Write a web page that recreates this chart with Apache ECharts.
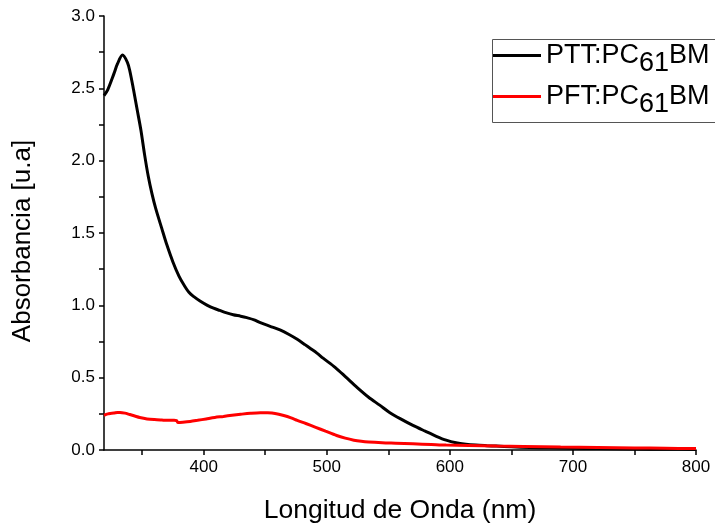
<!DOCTYPE html>
<html>
<head>
<meta charset="utf-8">
<script src="https://cdn.jsdelivr.net/npm/echarts@6/dist/echarts.min.js"></script>
<style>
  html, body { margin: 0; padding: 0; background: #fff; }
  #chart { width: 715px; height: 529px; }
</style>
</head>
<body>
<div id="chart"></div>
<script>
// PTT:PC61BM absorbance (wavelength nm, value)
const pttWave = [319, 322, 327, 330, 334, 338, 340, 343, 346, 349, 352, 355, 358, 361, 366, 370, 375, 380, 384, 388, 392, 397, 403, 408, 413, 418, 424, 430, 435, 441, 446, 454, 462, 469, 476, 482, 487, 492, 497, 507, 516, 525, 534, 543, 551, 560, 570, 580, 589, 597, 605, 613, 621, 630, 638, 650, 665, 680, 700, 720, 750, 775, 800];
const pttAbs  = [2.45, 2.49, 2.60, 2.67, 2.73, 2.68, 2.62, 2.49, 2.35, 2.21, 2.04, 1.89, 1.77, 1.67, 1.53, 1.42, 1.30, 1.20, 1.14, 1.09, 1.06, 1.03, 1.00, 0.98, 0.965, 0.95, 0.935, 0.925, 0.915, 0.90, 0.88, 0.855, 0.83, 0.80, 0.765, 0.73, 0.70, 0.67, 0.635, 0.57, 0.50, 0.43, 0.365, 0.31, 0.26, 0.215, 0.17, 0.13, 0.095, 0.068, 0.05, 0.04, 0.034, 0.03, 0.027, 0.022, 0.018, 0.015, 0.012, 0.01, 0.007, 0.005, 0.004];

// PFT:PC61BM absorbance
const pftWave = [319, 322, 324, 327, 330, 332, 336, 340, 344, 348, 354, 360, 366, 371, 376, 378, 379, 383, 389, 395, 402, 409, 416, 423, 430, 438, 446, 452, 458, 465, 471, 476, 483, 491, 499, 508, 515, 522, 528, 534, 545, 556, 570, 585, 597, 615, 638, 660, 690, 720, 750, 775, 800];
const pftAbs  = [0.24, 0.25, 0.253, 0.255, 0.26, 0.26, 0.255, 0.245, 0.235, 0.225, 0.215, 0.21, 0.207, 0.205, 0.205, 0.203, 0.19, 0.192, 0.197, 0.205, 0.215, 0.225, 0.232, 0.24, 0.247, 0.254, 0.258, 0.257, 0.252, 0.238, 0.222, 0.205, 0.183, 0.157, 0.13, 0.10, 0.082, 0.068, 0.06, 0.055, 0.05, 0.047, 0.043, 0.038, 0.034, 0.031, 0.027, 0.024, 0.02, 0.017, 0.014, 0.012, 0.01];

const xTickValues = [350, 400, 450, 500, 550, 600, 650, 700, 750, 800];
const xLabelValues = [400, 500, 600, 700, 800];

const seriesNames = ['PTT:PC61BM', 'PFT:PC61BM'];
const legendText = {
  'PTT:PC61BM': '{a|PTT:PC}{sub|61}{a|BM}',
  'PFT:PC61BM': '{a|PFT:PC}{sub|61}{a|BM}'
};

function pairs(xs, ys) {
  return xs.map((x, i) => [x, ys[i]]);
}

let myChart = echarts.init(document.getElementById('chart'));
myChart.setOption({
  animation: false,
  textStyle: { fontFamily: 'Liberation Sans, Arial, sans-serif' },
  grid: { left: 104, right: 19, top: 16, bottom: 76, containLabel: false },
  // legend frame runs off the right edge like in the original export
  graphic: [{
    type: 'rect',
    left: 490,
    top: 37,
    shape: { width: 300, height: 83 },
    style: { fill: 'none', stroke: '#555', lineWidth: 1 },
    silent: true
  }],
  legend: {
    orient: 'vertical',
    left: 490,
    top: 37,
    padding: [5, 10, 4, 3],
    itemGap: 6,
    itemWidth: 48,
    itemHeight: 3,
    icon: 'rect',
    borderWidth: 0,
    data: seriesNames,
    formatter: name => legendText[name],
    textStyle: {
      color: '#000',
      rich: {
        a: { fontSize: 27, color: '#000' },
        sub: { fontSize: 27, color: '#000', padding: [16, 0, 0, 0] }
      }
    }
  },
  xAxis: {
    type: 'value',
    min: 319,
    max: 800,
    name: 'Longitud de Onda (nm)',
    nameLocation: 'middle',
    nameGap: 47,
    nameTextStyle: { fontSize: 26.5, color: '#000' },
    axisLine: { show: true, lineStyle: { color: '#000', width: 1.5 } },
    axisTick: { show: true, inside: false, length: 5, customValues: xTickValues, lineStyle: { color: '#000', width: 1.5 } },
    axisLabel: { customValues: xLabelValues, fontSize: 17, color: '#000', margin: 9 },
    splitLine: { show: false }
  },
  yAxis: {
    type: 'value',
    min: 0,
    max: 3,
    interval: 0.5,
    name: 'Absorbancia [u.a]',
    nameLocation: 'middle',
    nameGap: 68,
    nameTextStyle: { fontSize: 26, color: '#000', padding: [0, 16, 0, 0] },
    axisLine: { show: true, lineStyle: { color: '#000', width: 1.5 } },
    axisTick: { show: true, inside: false, length: 5, lineStyle: { color: '#000', width: 1.5 } },
    minorTick: { show: true, splitNumber: 2, length: 5, lineStyle: { color: '#000', width: 1.5 } },
    axisLabel: { fontSize: 17, color: '#000', margin: 9, formatter: v => v.toFixed(1) },
    splitLine: { show: false },
    minorSplitLine: { show: false }
  },
  series: [
    {
      name: seriesNames[0],
      type: 'line',
      smooth: 0.3,
      showSymbol: false,
      data: pairs(pttWave, pttAbs),
      lineStyle: { color: '#000', width: 3 },
      itemStyle: { color: '#000' }
    },
    {
      name: seriesNames[1],
      type: 'line',
      smooth: 0.3,
      showSymbol: false,
      data: pairs(pftWave, pftAbs),
      lineStyle: { color: '#ff0000', width: 3 },
      itemStyle: { color: '#ff0000' }
    }
  ]
});

window.addEventListener('resize', () => {
  if (myChart) {
    myChart.resize();
  }
});
</script>
</body>
</html>
